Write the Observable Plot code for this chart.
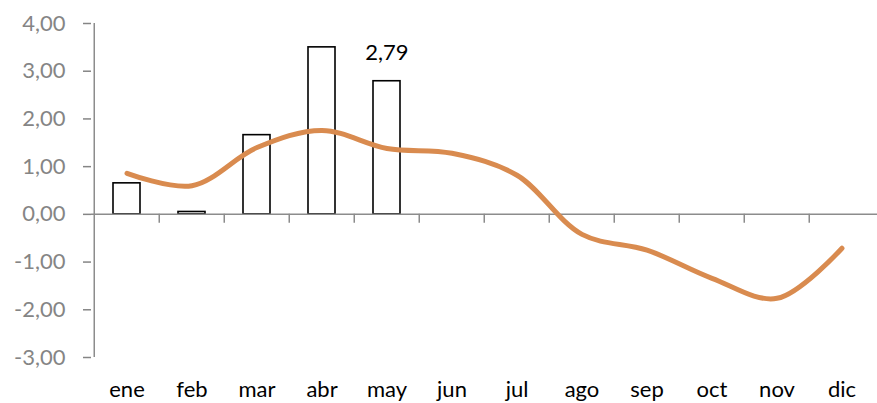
<!DOCTYPE html>
<html>
<head>
<meta charset="utf-8">
<script src="https://cdn.jsdelivr.net/npm/d3@7"></script>
<script src="https://cdn.jsdelivr.net/npm/@observablehq/plot@0.6"></script>
<style>
  html, body { margin: 0; padding: 0; background: #fff; }
  #chart svg { display: block; }
</style>
</head>
<body>
<div id="chart"></div>
<script>
const months = ["ene","feb","mar","abr","may","jun","jul","ago","sep","oct","nov","dic"];
const barMonths = ["ene","feb","mar","abr","may"];
const barValues = [0.65, 0.05, 1.66, 3.50, 2.79];
const lineValues = [0.86, 0.60, 1.40, 1.76, 1.38, 1.28, 0.82, -0.42, -0.75, -1.34, -1.76, -0.71];
const yTicks = [-3, -2, -1, 0, 1, 2, 3, 4];
const labelMonth = ["may"];
const labelValue = [2.79];

const bars = barMonths.map((m, i) => ({month: m, value: barValues[i]}));
const line = months.map((m, i) => ({month: m, value: lineValues[i]}));
const labels = labelMonth.map((m, i) => ({month: m, value: labelValue[i]}));
const fmt = v => d3.format(".2f")(v).replace(".", ",").replace("−", "-");

const W = 877, H = 403, mL = 91, mR = 0;
const bw = (W - mL - mR) / months.length;
const font = "Lato, 'Open Sans', sans-serif";
const yMin = d3.min(yTicks), yMax = d3.max(yTicks);

const chart = Plot.plot({
  width: W,
  height: H,
  marginLeft: mL,
  marginRight: mR,
  marginTop: 23,
  marginBottom: 46,
  style: {fontFamily: font, background: "#fff"},
  x: {type: "band", domain: months, padding: 0},
  y: {domain: [yMin, yMax]},
  marks: [
    Plot.axisY({ticks: yTicks, tickFormat: fmt, tickSize: 8, tickPadding: 18, color: "#858585", fontSize: 22, label: null, strokeWidth: 1.5, strokeOpacity: 1}),
    Plot.ruleX([months[0]], {x: d => d, y1: yMin, y2: yMax, dx: -bw / 2, stroke: "#8c8c8c", strokeWidth: 1.5}),
    Plot.axisX({tickSize: 0, tickPadding: 24, fontSize: 22, color: "#000", label: null}),
    Plot.barY(bars, {x: "month", y: "value", fill: "#fff", stroke: "#000", strokeWidth: 1.6, insetLeft: 19, insetRight: 19}),
    Plot.ruleY([0], {stroke: "#8c8c8c", strokeWidth: 1.5}),
    Plot.ruleX(months.slice(1), {x: d => d, y1: 0, y2: 0, dx: -bw / 2, insetBottom: -9, stroke: "#8c8c8c", strokeWidth: 1.5}),
    Plot.line(line, {x: "month", y: "value", curve: "catmull-rom", stroke: "#D98B4F", strokeWidth: 5, strokeLinecap: "round"}),
    Plot.text(labels, {x: "month", y: "value", text: d => fmt(d.value), dy: -28, fontSize: 22, fill: "#000"})
  ]
});
document.getElementById("chart").appendChild(chart);
</script>
</body>
</html>
